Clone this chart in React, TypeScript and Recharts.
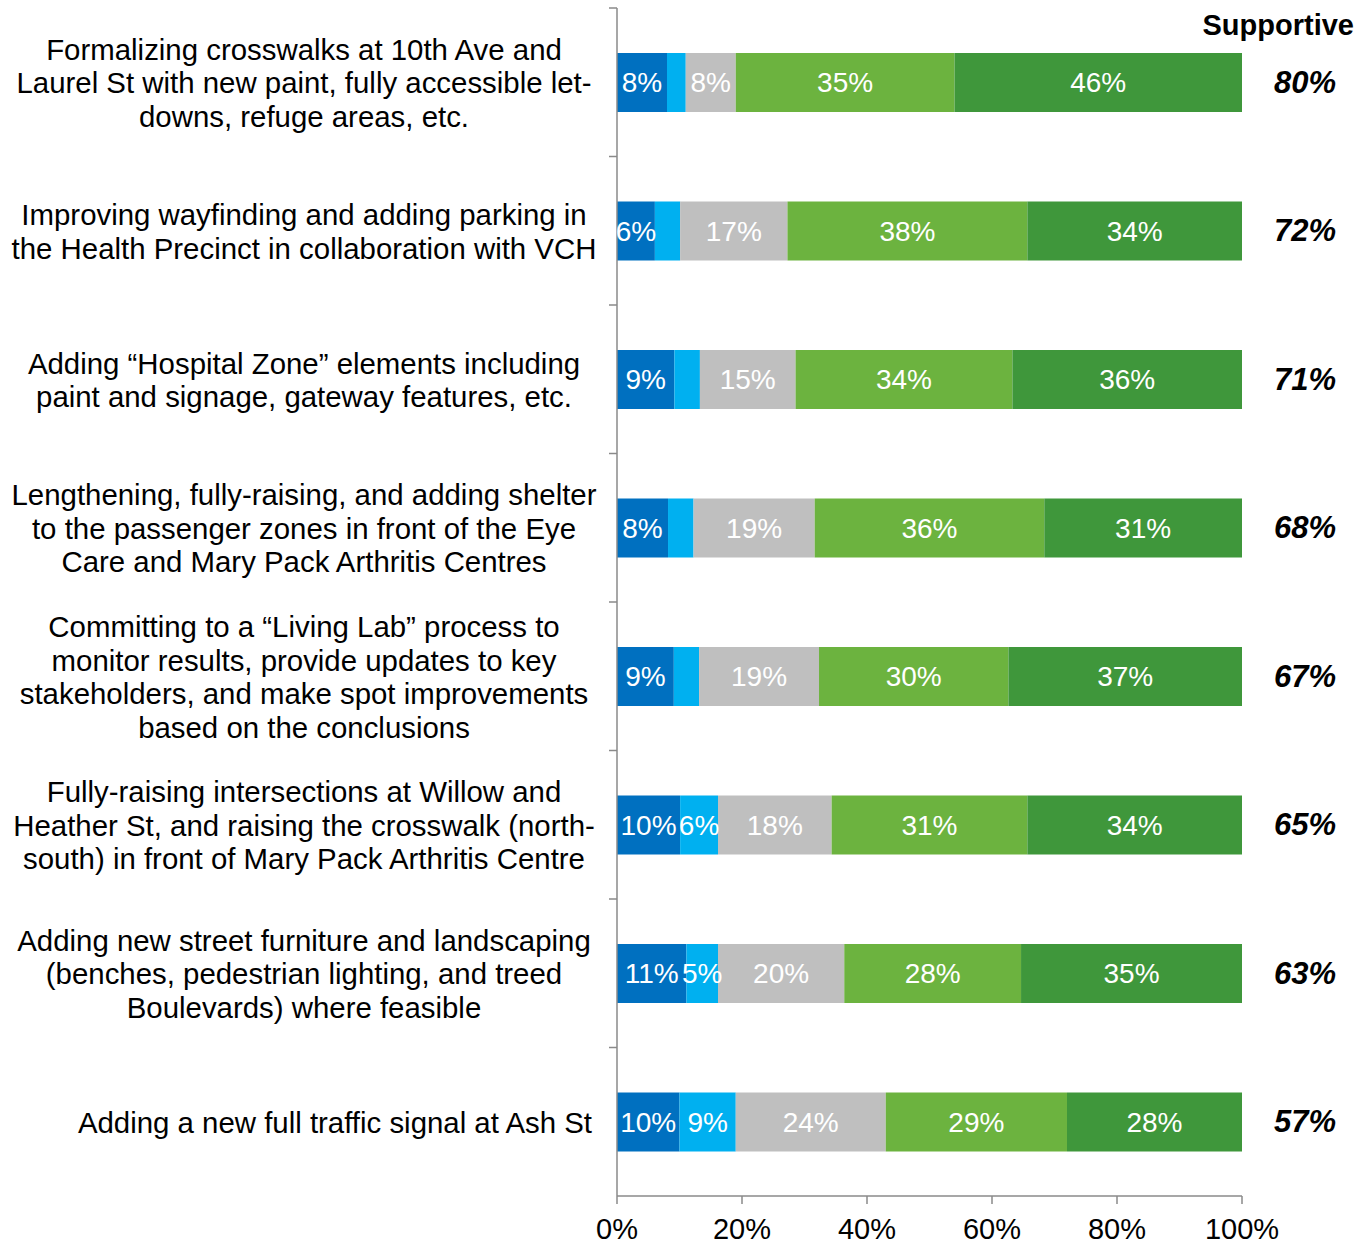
import React from 'react'
import {
  BarChart,
  Bar,
  XAxis,
  YAxis,
  LabelList,
} from 'recharts'

const categories = [
  'Formalizing crosswalks at 10th Ave and\nLaurel St with new paint, fully accessible let-\ndowns, refuge areas, etc.',
  'Improving wayfinding and adding parking in\nthe Health Precinct in collaboration with VCH',
  'Adding \u201cHospital Zone\u201d elements including\npaint and signage, gateway features, etc.',
  'Lengthening, fully-raising, and adding shelter\nto the passenger zones in front of the Eye\nCare and Mary Pack Arthritis Centres',
  'Committing to a \u201cLiving Lab\u201d process to\nmonitor results, provide updates to key\nstakeholders, and make spot improvements\nbased on the conclusions',
  'Fully-raising intersections at Willow and\nHeather St, and raising the crosswalk (north-\nsouth) in front of Mary Pack Arthritis Centre',
  'Adding new street furniture and landscaping\n(benches, pedestrian lighting, and treed\nBoulevards) where feasible',
  'Adding a new full traffic signal at Ash St',
]

const stronglyOppose = [8, 6, 9, 8, 9, 10, 11, 10]
const somewhatOppose = [3, 4, 4, 4, 4, 6, 5, 9]
const neutral = [8, 17, 15, 19, 19, 18, 20, 24]
const somewhatSupport = [35, 38, 34, 36, 30, 31, 28, 29]
const stronglySupport = [46, 34, 36, 31, 37, 34, 35, 28]
const supportive = ['80%', '72%', '71%', '68%', '67%', '65%', '63%', '57%']

const xTicks = [0, 0.2, 0.4, 0.6, 0.8, 1]

const data = categories.map((cat, i) => ({
  cat,
  so: stronglyOppose[i],
  wo: somewhatOppose[i],
  neu: neutral[i],
  ws: somewhatSupport[i],
  ss: stronglySupport[i],
}))

const W = 1357
const H = 1245
const TOP = 8
const XAXIS_H = 49
const BAND = (H - TOP - XAXIS_H) / categories.length
const AXIS = '#8a8a8a'

// multi-line category label, plus the tick mark at the band boundary
const CategoryTick = (props: any) => {
  const { x, y, payload } = props
  const lines: string[] = String(payload.value).split('\n')
  const lh = 33.5
  const startY = y - ((lines.length - 1) * lh) / 2
  const single = lines.length === 1
  const tx = single ? x - 25 : x - 313
  return (
    <g>
      <line x1={x - 8} x2={x} y1={y - BAND / 2} y2={y - BAND / 2} stroke={AXIS} strokeWidth={1.5} />
      <text
        x={tx}
        y={startY}
        textAnchor={single ? 'end' : 'middle'}
        dominantBaseline="central"
        fontSize={29.4}
        fill="#000"
      >
        {lines.map((l, i) => (
          <tspan key={i} x={tx} y={startY + i * lh}>
            {l}
          </tspan>
        ))}
      </text>
    </g>
  )
}

const SupportTick = (props: any) => {
  const { x, y, index } = props
  return (
    <text
      x={x + 94}
      y={y}
      textAnchor="end"
      dominantBaseline="central"
      fontSize={31}
      fontWeight="bold"
      fontStyle="italic"
      fill="#000"
    >
      {supportive[index]}
    </text>
  )
}

const pct = (v: any) => `${v}%`
const pctMin = (v: any) => (Number(v) >= 5 ? `${v}%` : '')

export default function App() {
  return (
    <div
      style={{
        position: 'absolute',
        left: 0,
        top: 0,
        width: W,
        height: H,
        background: '#fff',
        fontFamily: '"Liberation Sans", Arial, sans-serif',
      }}
    >
      <div
        style={{
          position: 'absolute',
          right: 3,
          top: 9,
          fontSize: 29,
          fontWeight: 'bold',
          color: '#000',
        }}
      >
        Supportive
      </div>
      <BarChart
        width={W}
        height={H}
        data={data}
        layout="vertical"
        stackOffset="expand"
        barSize={59}
        margin={{ top: TOP, right: 0, bottom: 0, left: 0 }}
      >
        <XAxis
          type="number"
          domain={[0, 1]}
          ticks={xTicks}
          tickFormatter={(v: number) => `${Math.round(v * 100)}%`}
          height={XAXIS_H}
          tickSize={8}
          tickMargin={14}
          stroke={AXIS}
          axisLine={{ stroke: AXIS, strokeWidth: 1.5 }}
          tickLine={{ stroke: AXIS, strokeWidth: 1.5 }}
          tick={{ fill: '#000', fontSize: 29 }}
          interval={0}
        />
        <YAxis
          yAxisId="left"
          type="category"
          dataKey="cat"
          width={617}
          tickLine={false}
          tickSize={0}
          tickMargin={0}
          axisLine={{ stroke: AXIS, strokeWidth: 1.5 }}
          tick={<CategoryTick />}
          interval={0}
        />
        <YAxis
          yAxisId="right"
          orientation="right"
          type="category"
          dataKey="cat"
          width={115}
          tickLine={false}
          tickSize={0}
          tickMargin={0}
          axisLine={false}
          tick={<SupportTick />}
          interval={0}
        />
        <Bar yAxisId="left" dataKey="so" name="Strongly oppose" stackId="a" fill="#0070C0" isAnimationActive={false}>
          <LabelList dataKey="so" position="center" fill="#fff" fontSize={28} formatter={pct} />
        </Bar>
        <Bar yAxisId="left" dataKey="wo" name="Somewhat oppose" stackId="a" fill="#00B0F0" isAnimationActive={false}>
          <LabelList dataKey="wo" position="center" fill="#fff" fontSize={28} formatter={pctMin} />
        </Bar>
        <Bar yAxisId="left" dataKey="neu" name="Neutral" stackId="a" fill="#BFBFBF" isAnimationActive={false}>
          <LabelList dataKey="neu" position="center" fill="#fff" fontSize={28} formatter={pct} />
        </Bar>
        <Bar yAxisId="left" dataKey="ws" name="Somewhat support" stackId="a" fill="#6CB33F" isAnimationActive={false}>
          <LabelList dataKey="ws" position="center" fill="#fff" fontSize={28} formatter={pct} />
        </Bar>
        <Bar yAxisId="left" dataKey="ss" name="Strongly support" stackId="a" fill="#3F973B" isAnimationActive={false}>
          <LabelList dataKey="ss" position="center" fill="#fff" fontSize={28} formatter={pct} />
        </Bar>
      </BarChart>
    </div>
  )
}
